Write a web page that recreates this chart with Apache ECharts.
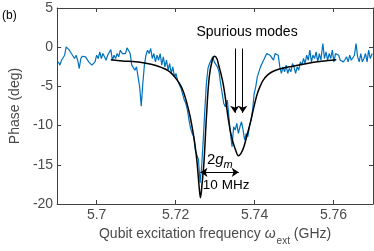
<!DOCTYPE html>
<html>
<head>
<meta charset="utf-8">
<script src="https://cdn.jsdelivr.net/npm/echarts@6/dist/echarts.min.js"></script>
<style>html,body{margin:0;padding:0;background:#fff}#c{width:374px;height:251px}</style>
</head>
<body>
<div id="c"></div>
<script>
// Measured data (blue)
var measFreq = [
5.6903,5.6907,5.6911,5.6915,5.6919,5.6923,5.6927,5.6931,5.6936,5.6940,
5.6944,5.6948,5.6952,5.6956,5.6960,5.6964,5.6968,5.6972,5.6976,5.6980,
5.6984,5.6988,5.6992,5.6996,5.7000,5.7004,5.7008,5.7012,5.7016,5.7020,
5.7024,5.7028,5.7032,5.7036,5.7040,5.7044,5.7048,5.7052,5.7056,5.7060,
5.7065,5.7069,5.7073,5.7077,5.7081,5.7085,5.7089,5.7093,5.7097,5.7101,
5.7105,5.7109,5.7113,5.7117,5.7121,5.7125,5.7129,5.7133,5.7137,5.7141,
5.7145,5.7149,5.7153,5.7157,5.7161,5.7165,5.7169,5.7173,5.7177,5.7181,
5.7185,5.7189,5.7193,5.7197,5.7201,5.7205,5.7210,5.7214,5.7218,5.7222,
5.7226,5.7230,5.7234,5.7238,5.7242,5.7246,5.7250,5.7254,5.7258,5.7262,
5.7266,5.7270,5.7274,5.7278,5.7282,5.7286,5.7290,5.7294,5.7298,5.7302,
5.7306,5.7310,5.7314,5.7318,5.7322,5.7326,5.7331,5.7335,5.7339,5.7343,
5.7347,5.7351,5.7355,5.7359,5.7363,5.7367,5.7371,5.7375,5.7379,5.7383,
5.7387,5.7391,5.7395,5.7399,5.7403,5.7407,5.7411,5.7415,5.7419,5.7423,
5.7427,5.7431,5.7435,5.7439,5.7444,5.7448,5.7452,5.7456,5.7460,5.7464,
5.7468,5.7472,5.7476,5.7480,5.7484,5.7488,5.7492,5.7496,5.7500,5.7504,
5.7508,5.7512,5.7516,5.7520,5.7524,5.7528,5.7532,5.7536,5.7540,5.7544,
5.7548,5.7552,5.7556,5.7560,5.7564,5.7568,5.7573,5.7577,5.7581,5.7585,
5.7589,5.7593,5.7597,5.7601,5.7605,5.7609,5.7613,5.7617,5.7621,5.7625,
5.7629,5.7633,5.7637,5.7641,5.7645,5.7649,5.7653,5.7657,5.7661,5.7665,
5.7669,5.7673,5.7677,5.7681,5.7685,5.7689,5.7693,5.7698
];
var measPhase = [
-1.87,-2.29,-1.66,-1.87,-1.02,0.04,0.25,-0.38,-0.81,-0.89,
-1.44,-1.02,-1.66,-2.72,-1.44,-1.15,-1.32,-1.23,-1.44,-1.87,
-1.66,-2.29,-2.51,-1.87,-1.02,-1.44,-0.59,-1.44,-0.81,-1.02,
-1.66,-1.02,-1.23,-0.30,-1.66,-1.02,-1.44,-0.81,-1.23,-0.38,
-0.81,-0.59,-0.81,-0.08,0.04,-0.81,-2.29,-2.51,-2.93,-2.51,
-3.78,-5.05,-7.52,-4.63,-2.29,-1.02,-0.38,-0.81,-0.17,-1.44,
-0.81,-1.87,-1.02,-1.66,-0.81,-2.29,-1.23,-2.51,-1.66,-2.93,
-2.08,-3.35,-2.51,-3.78,-3.35,-4.20,-4.84,-5.27,-5.48,-6.75,
-7.18,-8.03,-9.30,-10.36,-11.00,-11.42,-13.12,-13.33,-14.39,-17.30,
-15.24,-11.85,-8.03,-4.63,-2.72,-2.08,-1.87,-1.23,-1.87,-2.08,
-2.51,-3.14,-4.63,-5.90,-7.18,-7.60,-6.75,-8.87,-11.00,-12.70,
-10.15,-10.57,-9.72,-11.00,-10.15,-9.51,-10.57,-11.85,-11.00,-11.42,
-10.15,-9.30,-8.03,-5.90,-5.05,-3.78,-3.57,-2.51,-2.08,-1.66,
-1.23,-0.81,-0.59,-1.02,-1.23,-1.66,-0.81,-0.59,-1.02,-2.51,
-3.35,-2.51,-3.14,-2.29,-3.35,-2.72,-3.14,-2.08,-2.51,-3.35,
-2.51,-2.93,-1.87,-2.29,-1.44,-2.08,-1.02,-1.66,-0.38,-1.87,
-1.02,-1.44,-0.59,-1.87,-0.81,-1.66,0.47,-1.44,-0.59,-1.66,
-0.81,-1.44,-0.38,-1.87,-0.81,-0.59,-1.02,-1.66,-1.44,-1.87,
-1.57,-1.23,-1.87,-1.02,-1.66,-1.87,-1.02,0.47,-1.23,-1.87,
-0.81,-1.87,-1.44,-0.81,-1.87,-0.38,-1.44,-0.81
];
// Fit (black)
var fitFreq = [5.7036,5.7065,5.7099,5.7125,5.7148,5.7165,5.7180,5.7193,5.7204,5.7213,
5.7220,5.7228,5.7236,5.7243,5.7248,5.7254,5.7260,5.7263,5.7267,5.7272,
5.7278,5.7285,5.7293,5.7299,5.7305,5.7309,5.7315,5.7321,5.7327,5.7333,
5.7339,5.7345,5.7352,5.7359,5.7366,5.7373,5.7381,5.7390,5.7398,5.7406,
5.7414,5.7422,5.7434,5.7446,5.7465,5.7494,5.7530,5.7570,5.7607];
var fitPhase = [-1.6,-1.75,-1.85,-2.05,-2.3,-2.6,-2.95,-3.5,-4.2,-4.9,
-5.7,-7.0,-8.65,-10.5,-12.05,-14.5,-18.0,-19.2,-17.5,-14.6,
-9.0,-3.9,-1.63,-1.15,-1.5,-2.27,-3.4,-4.8,-6.8,-9.0,
-10.8,-12.05,-13.1,-13.85,-13.5,-12.7,-11.2,-9.5,-7.7,-6.1,
-5.0,-4.2,-3.5,-3.1,-2.75,-2.45,-2.1,-1.8,-1.6];
// Ticks
var xTicks = [5.70, 5.72, 5.74, 5.76];
var yTicks = [-20, -15, -10, -5, 0, 5];
// Annotations (data coordinates)
var spurX = [5.7350, 5.7370];
var spurTop = -0.17, spurTip = -8.37;
var gapFrom = 5.7263, gapTo = 5.7360, gapY = -15.96;

var FONT = "'Liberation Sans', Arial, Helvetica, sans-serif";
var AX = '#404040', LBL = '#4a4a4a';

function zip(a, b) { return a.map(function (v, i) { return [v, b[i]]; }); }

var chart = echarts.init(document.getElementById('c'), null, { renderer: 'canvas' });
var axisBase = {
  type: 'value', axisLine: { show: true, onZero: false, lineStyle: { color: AX, width: 1 } },
  splitLine: { show: false }
};
chart.setOption({
  animation: false,
  textStyle: { fontFamily: FONT },
  grid: { left: 43, right: 1, top: 8, bottom: 47 },
  xAxis: [
    Object.assign({}, axisBase, {
      min: 5.69, max: 5.77, position: 'bottom',
      axisTick: { inside: true, length: 4, customValues: xTicks, lineStyle: { color: AX } },
      axisLabel: { customValues: xTicks, fontSize: 14, color: LBL, margin: 4, fontFamily: FONT,
        formatter: function (v) { return String(+v.toFixed(2)); } },
      name: '{a|Qubit excitation frequency }{w|ω}{s|ext}{a| (GHz)}',
      nameLocation: 'middle', nameGap: 18,
      nameTextStyle: { fontFamily: FONT, color: LBL, rich: {
        a: { fontSize: 14, lineHeight: 16, verticalAlign: 'top', color: LBL, fontFamily: FONT },
        w: { fontSize: 14, lineHeight: 16, verticalAlign: 'top', color: LBL, fontStyle: 'italic', fontFamily: FONT },
        s: { fontSize: 10, lineHeight: 10, verticalAlign: 'top', padding: [9, 0, 0, 1], color: LBL, fontFamily: FONT }
      } }
    }),
    Object.assign({}, axisBase, {
      min: 5.69, max: 5.77, position: 'top',
      axisTick: { inside: true, length: 4, customValues: xTicks, lineStyle: { color: AX } },
      axisLabel: { show: false }
    })
  ],
  yAxis: [
    Object.assign({}, axisBase, {
      min: -20, max: 5, interval: 5, position: 'left',
      axisTick: { inside: true, length: 4, lineStyle: { color: AX } },
      axisLabel: { fontSize: 14, color: LBL, margin: 4, fontFamily: FONT },
      name: 'Phase (deg)', nameLocation: 'middle', nameGap: 27,
      nameTextStyle: { fontSize: 14, color: LBL, fontFamily: FONT }
    }),
    Object.assign({}, axisBase, {
      min: -20, max: 5, interval: 5, position: 'right',
      axisTick: { inside: true, length: 4, lineStyle: { color: AX } },
      axisLabel: { show: false }
    })
  ],
  series: [
    {
      type: 'line', data: zip(measFreq, measPhase), showSymbol: false, symbol: 'none',
      lineStyle: { color: '#0072BD', width: 1.2 }, silent: true, z: 2
    },
    {
      type: 'line', data: zip(fitFreq, fitPhase), showSymbol: false, symbol: 'none', smooth: 0.35,
      lineStyle: { color: '#000', width: 1.5 }, silent: true, z: 3,
      markLine: {
        silent: true, animation: false, symbolSize: 7,
        label: { show: false },
        lineStyle: { color: '#000', width: 1, type: 'solid' },
        data: [
          [{ coord: [spurX[0], spurTop], symbol: 'none' }, { coord: [spurX[0], spurTip], symbol: 'arrow' }],
          [{ coord: [spurX[1], spurTop], symbol: 'none' }, { coord: [spurX[1], spurTip], symbol: 'arrow' }],
          [{ coord: [gapFrom, gapY], symbol: 'arrow' }, { coord: [gapTo, gapY], symbol: 'arrow' }]
        ]
      },
      markPoint: {
        silent: true, animation: false, symbol: 'circle', symbolSize: 1,
        itemStyle: { color: 'rgba(0,0,0,0)' },
        data: [
          { coord: [5.7381, 1.94], label: { show: true, position: 'inside', formatter: 'Spurious modes', color: '#000', fontSize: 14, fontFamily: FONT } },
          { coord: [5.7312, -14.4], label: { show: true, position: 'inside', formatter: '{n|2}{g|g}{m|m}', color: '#000',
              rich: {
                n: { fontSize: 15, lineHeight: 16, verticalAlign: 'top', color: '#000', fontFamily: FONT },
                g: { fontSize: 15, lineHeight: 16, verticalAlign: 'top', color: '#000', fontStyle: 'italic', fontFamily: FONT },
                m: { fontSize: 11, lineHeight: 11, verticalAlign: 'top', padding: [7, 0, 0, 0], color: '#000', fontStyle: 'italic', fontFamily: FONT }
              } } },
          { coord: [5.7328, -17.67], label: { show: true, position: 'inside', formatter: '10 MHz', color: '#000', fontSize: 13.5, fontFamily: FONT } }
        ]
      }
    }
  ],
  graphic: [
    { type: 'text', left: 2, top: 10, style: { text: '(b)', fontSize: 12, fill: '#000', fontFamily: FONT } }
  ]
});
</script>
</body>
</html>
